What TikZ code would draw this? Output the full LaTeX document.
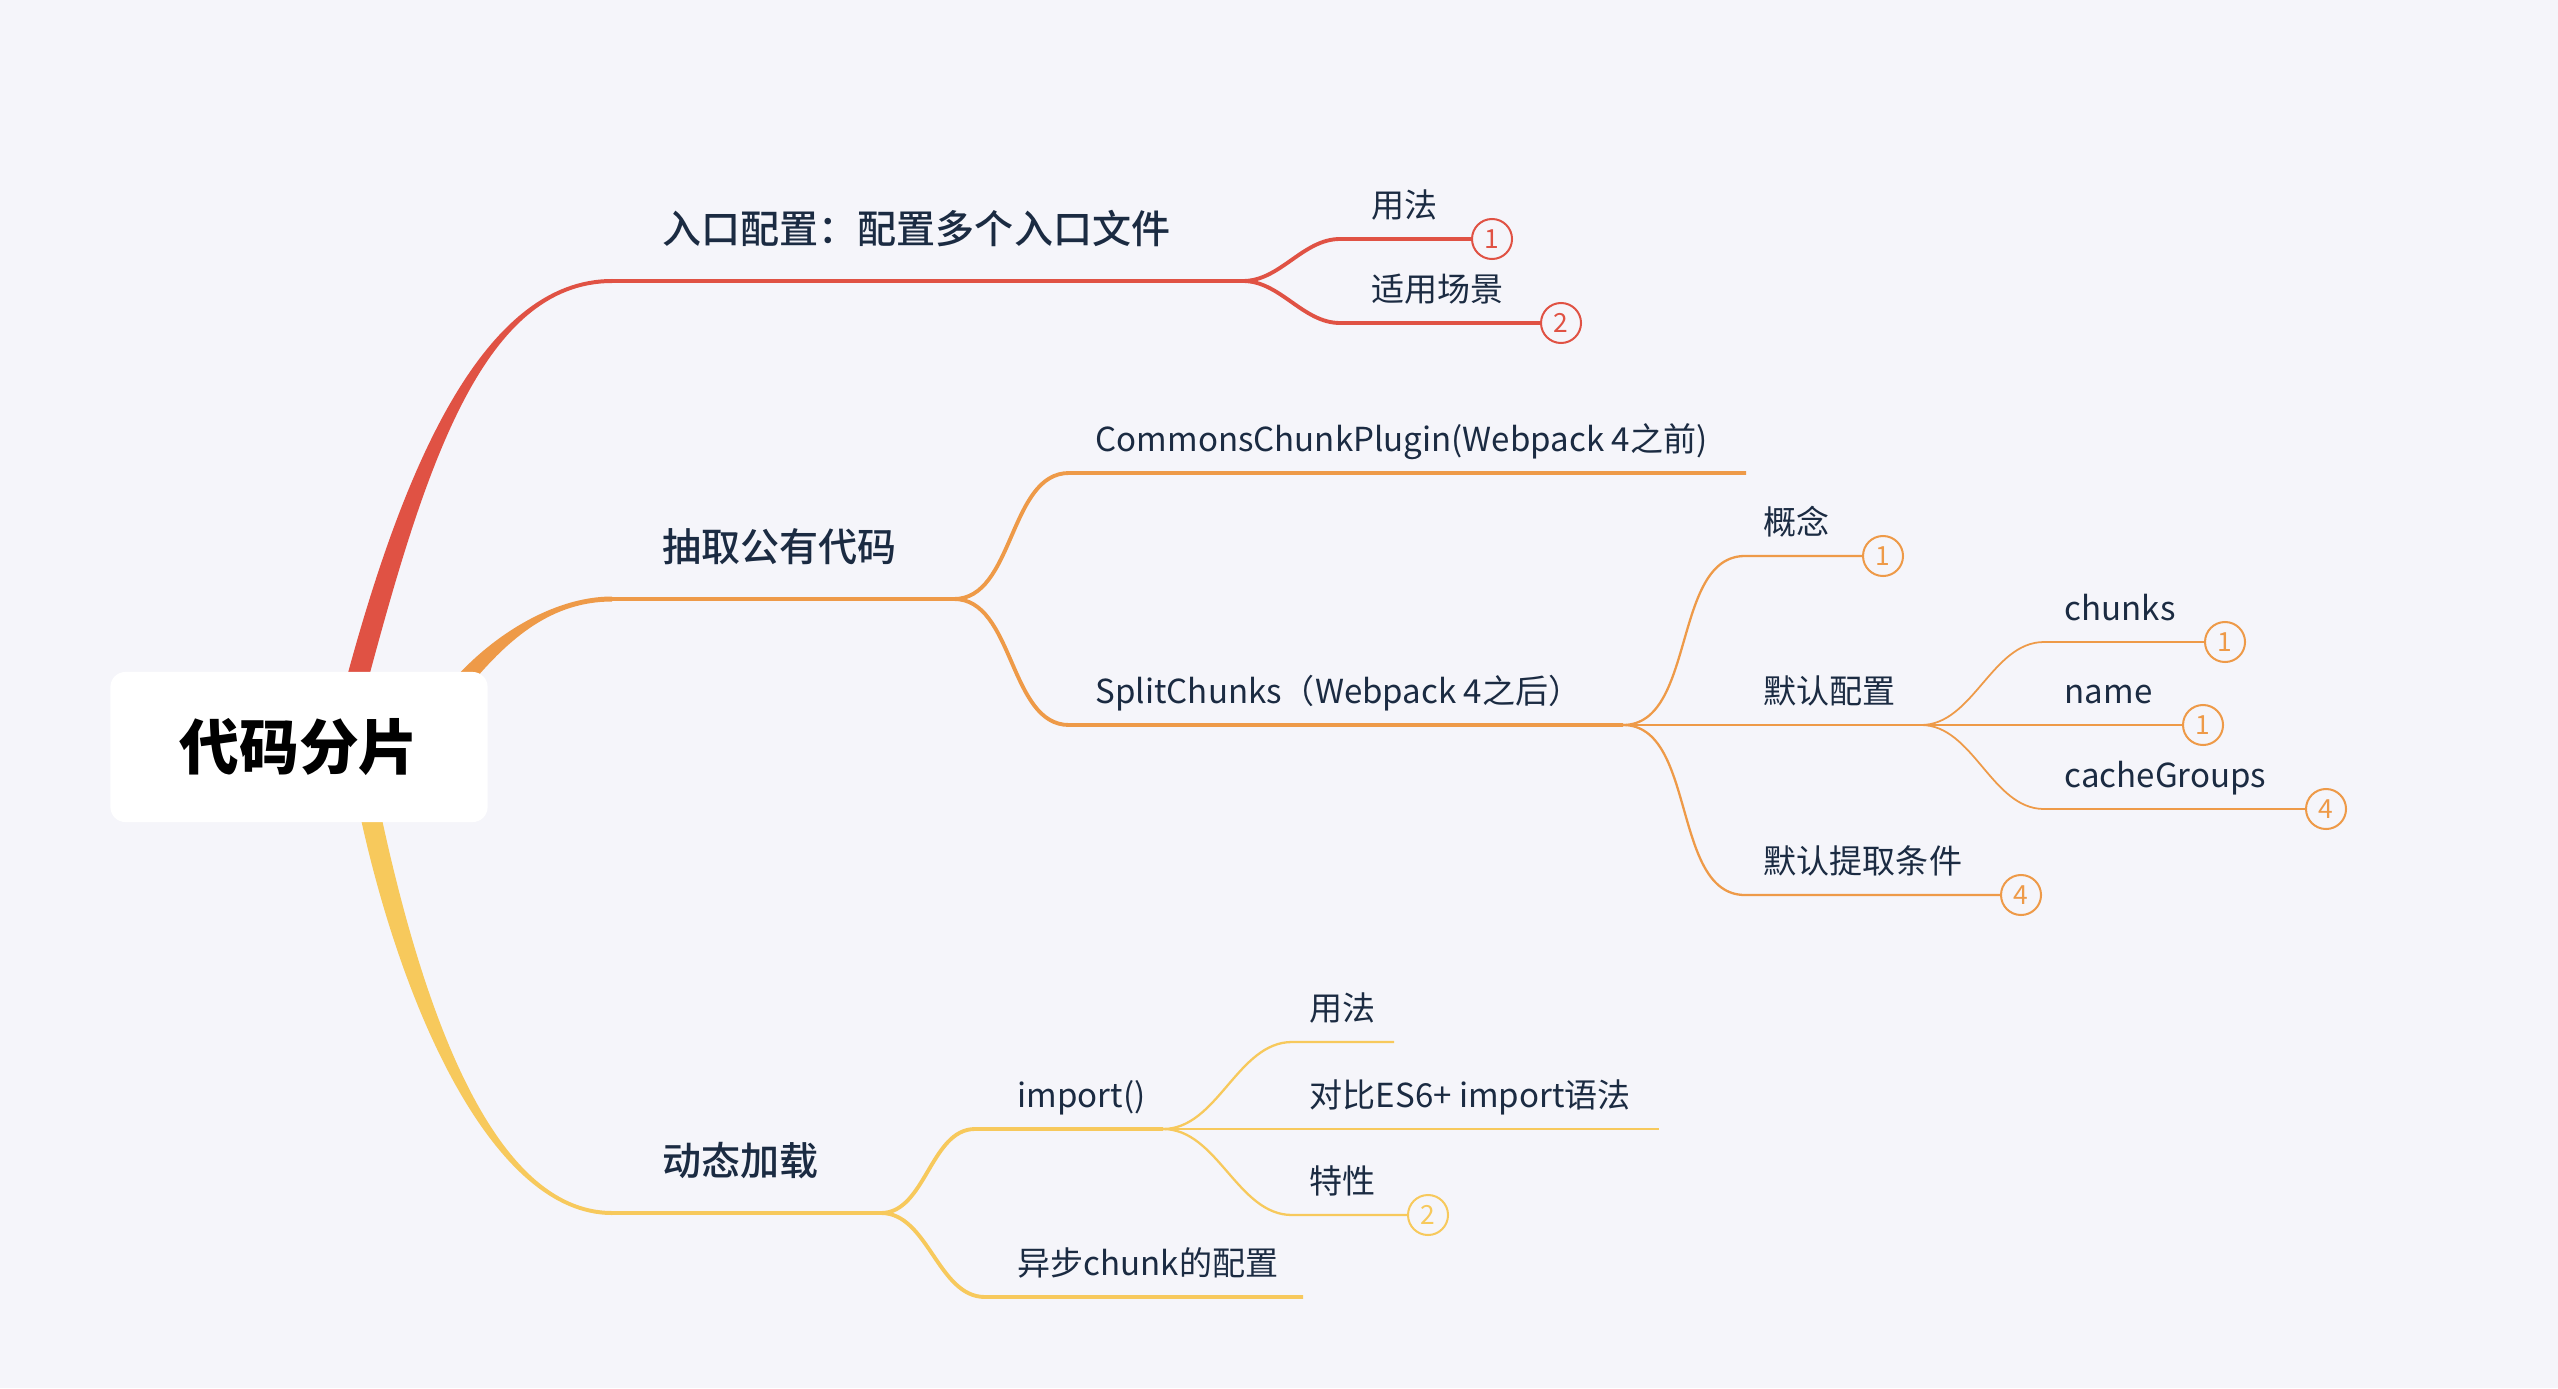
\documentclass[tikz,border=0pt]{standalone}
\usepackage{fontspec}
\setmainfont{Noto Sans CJK SC}
\newfontfamily\midfont{Noto Sans CJK SC Medium}
\definecolor{bgc}{HTML}{F5F5FA}
\definecolor{redc}{HTML}{E05244}
\definecolor{orgc}{HTML}{EE9A48}
\definecolor{ylwc}{HTML}{F7C95C}
\definecolor{inkc}{HTML}{1B2B42}
\tikzset{
  topic/.style={anchor=base west, inner sep=0pt, text=inkc, font=\fontsize{9.4}{11}\selectfont},
  ktopic/.style={topic, font=\fontsize{11.1}{13}\selectfont\midfont},
  kroot/.style={fill=white, rounded corners=0.15cm, minimum width=3.77cm, minimum height=1.5cm, font=\fontsize{17}{20}\selectfont\bfseries, text=black},
  badge/.style={circle, draw, line width=0.57pt, fill=bgc, minimum size=0.4cm, inner sep=0pt, font=\fontsize{7.5}{8}\selectfont},
  lone/.style={line width=1.4pt},
  ltwo/.style={line width=1.1pt},
  lthree/.style={line width=0.65pt},
  lfour/.style={line width=0.5pt},
  curve/.style={out=0, in=180, looseness=0.9},
}
\begin{document}
\begin{tikzpicture}[x=0.01cm, y=-0.01cm]
    \useasboundingbox (0,0) rectangle (2558,1388);
    \fill[bgc] (0,0) rectangle (2558,1388);
    % line ends
    \coordinate (r-red-a) at (345,684); \coordinate (r-red-b) at (367,684);
    \coordinate (r-org-a) at (450,684); \coordinate (r-org-b) at (471,684);
    \coordinate (r-ylw-a) at (359,810); \coordinate (r-ylw-b) at (380,810);
    \coordinate (entry-s) at (612,281); \coordinate (entry-e) at (1243,281);
    \coordinate (usage-s) at (1340,239);
    \coordinate (scene-s) at (1340,323);
    \coordinate (common-s) at (612,599); \coordinate (common-e) at (954,599);
    \coordinate (commons-s) at (1069,473); \coordinate (commons-e) at (1746,473);
    \coordinate (split-s) at (1069,725); \coordinate (split-e) at (1623,725);
    \coordinate (concept-s) at (1745,556);
    \coordinate (defcfg-e) at (1921,725);
    \coordinate (chunks-s) at (2044,642);
    \coordinate (cachegrp-s) at (2044,809);
    \coordinate (defcond-s) at (1745,895);
    \coordinate (dynamic-s) at (612,1213); \coordinate (dynamic-e) at (881,1213);
    \coordinate (importfn-s) at (975,1129); \coordinate (importfn-e) at (1163,1129);
    \coordinate (usage2-s) at (1292,1042); \coordinate (usage2-e) at (1394,1042);
    \coordinate (compare-e) at (1659,1129);
    \coordinate (feature-s) at (1292,1215);
    \coordinate (async-s) at (985,1297); \coordinate (async-e) at (1303,1297);
    % labels
    \node[ktopic] (entry) at (662,243) {入口配置：配置多个入口文件};
    \node[topic] (usage) at (1371,217) {用法};
    \node[topic] (scene) at (1371,301) {适用场景};
    \node[ktopic] (common) at (662,561) {抽取公有代码};
    \node[topic] (commons) at (1095,451) {CommonsChunkPlugin(Webpack 4之前)};
    \node[topic] (split) at (1095,703) {SplitChunks（Webpack 4之后）};
    \node[topic] (concept) at (1763,534) {概念};
    \node[topic] (defcfg) at (1763,703) {默认配置};
    \node[topic] (chunks) at (2064,620) {chunks};
    \node[topic] (name) at (2064,703) {name};
    \node[topic] (cachegrp) at (2064,787) {cacheGroups};
    \node[topic] (defcond) at (1763,873) {默认提取条件};
    \node[ktopic] (dynamic) at (662,1175) {动态加载};
    \node[topic] (importfn) at (1017,1107) {import()};
    \node[topic] (usage2) at (1309,1020) {用法};
    \node[topic] (compare) at (1309,1107) {对比ES6+ import语法};
    \node[topic] (feature) at (1309,1193) {特性};
    \node[topic] (async) at (1017,1275) {异步chunk的配置};
    % count badges
    \node[badge, draw=redc, text=redc] (usage-b) at (1492,239) {1};
    \node[badge, draw=redc, text=redc] (scene-b) at (1561,323) {2};
    \node[badge, draw=orgc, text=orgc] (concept-b) at (1883,556) {1};
    \node[badge, draw=orgc, text=orgc] (chunks-b) at (2225,642) {1};
    \node[badge, draw=orgc, text=orgc] (name-b) at (2203,725) {1};
    \node[badge, draw=orgc, text=orgc] (cachegrp-b) at (2326,809) {4};
    \node[badge, draw=orgc, text=orgc] (defcond-b) at (2021,895) {4};
    \node[badge, draw=ylwc, text=ylwc] (feature-b) at (1428,1215) {2};
    % red branch
    \fill[redc] (r-red-a) to[out=75, in=180, out distance=2.2cm, in distance=1.3cm] ([yshift=0.02cm]entry-s)
      -- ([yshift=-0.02cm]entry-s) to[out=180, in=75, out distance=1.3cm, in distance=2.2cm] (r-red-b) -- cycle;
    \draw[lone, redc] (entry-s) -- (entry-e);
    \draw[ltwo, redc] (entry-e) to[curve] (usage-s) -- (usage-b);
    \draw[ltwo, redc] (entry-e) to[curve] (scene-s) -- (scene-b);
    % orange branch
    \fill[orgc] (r-org-a) to[out=50, in=180, out distance=0.6cm, in distance=0.6cm] ([yshift=0.025cm]common-s)
      -- ([yshift=-0.025cm]common-s) to[out=180, in=50, out distance=0.6cm, in distance=0.6cm] (r-org-b) -- cycle;
    \draw[lone, orgc] (common-s) -- (common-e);
    \draw[ltwo, orgc] (common-e) to[curve] (commons-s) -- (commons-e);
    \draw[ltwo, orgc] (common-e) to[curve] (split-s) -- (split-e);
    \draw[lthree, orgc] (split-e) to[curve] (concept-s) -- (concept-b);
    \draw[lthree, orgc] (split-e) -- (defcfg-e);
    \draw[lthree, orgc] (split-e) to[curve] (defcond-s) -- (defcond-b);
    \draw[lfour, orgc] (defcfg-e) to[curve] (chunks-s) -- (chunks-b);
    \draw[lfour, orgc] (defcfg-e) -- (name-b);
    \draw[lfour, orgc] (defcfg-e) to[curve] (cachegrp-s) -- (cachegrp-b);
    % yellow branch
    \fill[ylwc] (r-ylw-a) to[out=-78, in=180, out distance=2cm, in distance=1.2cm] ([yshift=-0.02cm]dynamic-s)
      -- ([yshift=0.02cm]dynamic-s) to[out=180, in=-78, out distance=1.2cm, in distance=2cm] (r-ylw-b) -- cycle;
    \draw[lone, ylwc] (dynamic-s) -- (dynamic-e);
    \draw[ltwo, ylwc] (dynamic-e) to[curve] (importfn-s) -- (importfn-e);
    \draw[ltwo, ylwc] (dynamic-e) to[curve] (async-s) -- (async-e);
    \draw[lthree, ylwc] (importfn-e) to[curve] (usage2-s) -- (usage2-e);
    \draw[lthree, ylwc] (importfn-e) -- (compare-e);
    \draw[lthree, ylwc] (importfn-e) to[curve] (feature-s) -- (feature-b);
    % root on top
    \node[kroot] (root) at (299,747) {代码分片};
  \end{tikzpicture}
\end{document}
